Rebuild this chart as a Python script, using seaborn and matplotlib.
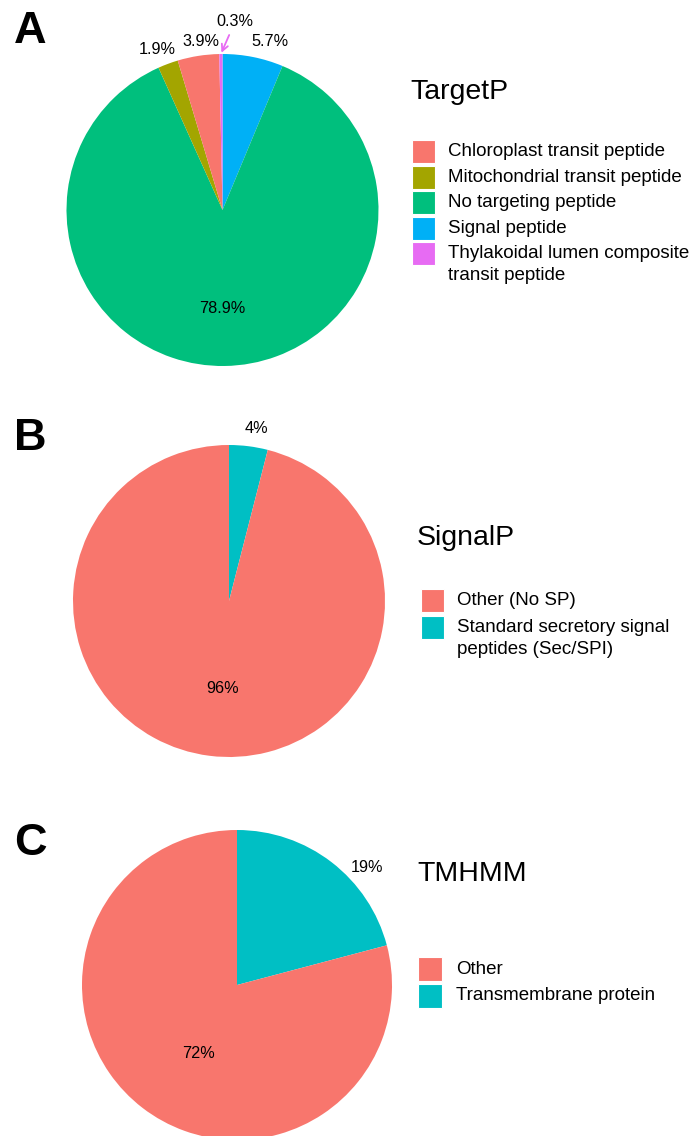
import numpy as np
import matplotlib
matplotlib.use('Agg')
import matplotlib.pyplot as plt
from matplotlib.patches import Rectangle
import seaborn as sns

sns.set_theme(style='white')
plt.rcParams['font.family'] = ['Liberation Sans', 'DejaVu Sans']
plt.rcParams['text.color'] = 'black'

# Datos (orden en sentido horario desde las 12)
targetp_cats = ['Signal peptide', 'No targeting peptide', 'Mitochondrial transit peptide',
                'Chloroplast transit peptide', 'Thylakoidal lumen composite\ntransit peptide']
targetp_vals = [5.7, 78.9, 1.9, 3.9, 0.3]
targetp_cols = ['#00B0F6', '#00BF7D', '#A3A500', '#F8766D', '#E76BF3']
targetp_legend = ['Chloroplast transit peptide', 'Mitochondrial transit peptide',
                  'No targeting peptide', 'Signal peptide',
                  'Thylakoidal lumen composite\ntransit peptide']

signalp_cats = ['Standard secretory signal\npeptides (Sec/SPI)', 'Other (No SP)']
signalp_vals = [4, 96]
signalp_cols = ['#00BFC4', '#F8766D']
signalp_legend = ['Other (No SP)', 'Standard secretory signal\npeptides (Sec/SPI)']

tmhmm_cats = ['Transmembrane protein', 'Other']
tmhmm_vals = [19, 72]
tmhmm_cols = ['#00BFC4', '#F8766D']
tmhmm_legend = ['Other', 'Transmembrane protein']

# posicion de las etiquetas (angulo horario desde arriba, radio)
targetp_lab = [(15.8, 1.12), (180, 0.63), (-22, 1.11), (-7.3, 1.09), (3.8, 1.21)]
signalp_lab = [(8.9, 1.12), (183.9, 0.565)]
tmhmm_lab = [(48, 1.13), (209.5, 0.51)]

W, H = 694, 1136
fig = plt.figure(figsize=(W / 100, H / 100), dpi=100)


def fx(px):
    return px / W


def fy(py):
    return 1 - py / H


def pie_panel(cx, cy, r, vals, cats, cols, labpos, arrow_idx=None):
    R = r * 1.02
    ax = fig.add_axes([fx(cx - R), fy(cy + R), 2 * R / W, 2 * R / H])
    pal = sns.color_palette(cols)
    ax.pie(vals, colors=pal, startangle=90, counterclock=False,
           wedgeprops=dict(linewidth=0), normalize=True)
    ax.set_xlim(-1.02, 1.02)
    ax.set_ylim(-1.02, 1.02)
    ax.set_aspect('equal')
    ax.axis('off')
    fracs = np.array(vals) / np.sum(vals)
    start = np.concatenate([[0], np.cumsum(fracs)[:-1]]) * 360
    for i, (v, (a, rr)) in enumerate(zip(vals, labpos)):
        x = rr * np.sin(np.radians(a))
        y = rr * np.cos(np.radians(a))
        txt = '{}%'.format(v)
        if i == arrow_idx:
            mid = np.radians(start[i] + fracs[i] * 180)
            ax.annotate(txt, xy=(np.sin(mid), np.cos(mid)), xytext=(x, y),
                        ha='center', va='center', fontsize=11.7, color='black',
                        arrowprops=dict(arrowstyle='->', color=cols[i], lw=1.3,
                                        shrinkA=2, shrinkB=1))
        else:
            ax.text(x, y, txt, ha='center', va='center', fontsize=11.7, color='black')
    return ax


def legend_panel(title, title_x, title_y, labels, cols, kx, ky, ks, pitch, tx):
    fig.text(fx(title_x), fy(title_y), title, fontsize=20.5, ha='left', va='baseline',
             color='black')
    for i, (lab, c) in enumerate(zip(labels, cols)):
        top = ky + i * pitch
        fig.add_artist(Rectangle((fx(kx), fy(top + ks)), ks / W, ks / H,
                                 transform=fig.transFigure, facecolor=c,
                                 edgecolor='white', linewidth=0.8))
        for j, line in enumerate(lab.split('\n')):
            fig.text(fx(tx), fy(top + ks / 2 + j * 22), line, fontsize=13.5,
                     ha='left', va='center', color='black')


# Panel A
pie_panel(222.5, 210, 156, targetp_vals, targetp_cats, targetp_cols, targetp_lab, arrow_idx=4)
legend_cols_a = [targetp_cols[targetp_cats.index(c)] for c in targetp_legend]
legend_panel('TargetP', 410, 99, targetp_legend, legend_cols_a, 412, 140, 23, 25.6, 448)

# Panel B
pie_panel(229, 601, 156, signalp_vals, signalp_cats, signalp_cols, signalp_lab)
legend_cols_b = [signalp_cols[signalp_cats.index(c)] for c in signalp_legend]
legend_panel('SignalP', 417, 545, signalp_legend, legend_cols_b, 421, 589, 23, 26.5, 457)

# Panel C
pie_panel(237, 985, 155, tmhmm_vals, tmhmm_cats, tmhmm_cols, tmhmm_lab)
legend_cols_c = [tmhmm_cols[tmhmm_cats.index(c)] for c in tmhmm_legend]
legend_panel('TMHMM', 417, 881, tmhmm_legend, legend_cols_c, 418, 957, 24, 26.5, 456)

# Letras de panel
for letra, py in zip(['A', 'B', 'C'], [43, 450, 855]):
    fig.text(fx(14), fy(py), letra, fontsize=32.5, fontweight='bold',
             ha='left', va='baseline', color='black')

fig.savefig('out.png', dpi=100, facecolor='white')
